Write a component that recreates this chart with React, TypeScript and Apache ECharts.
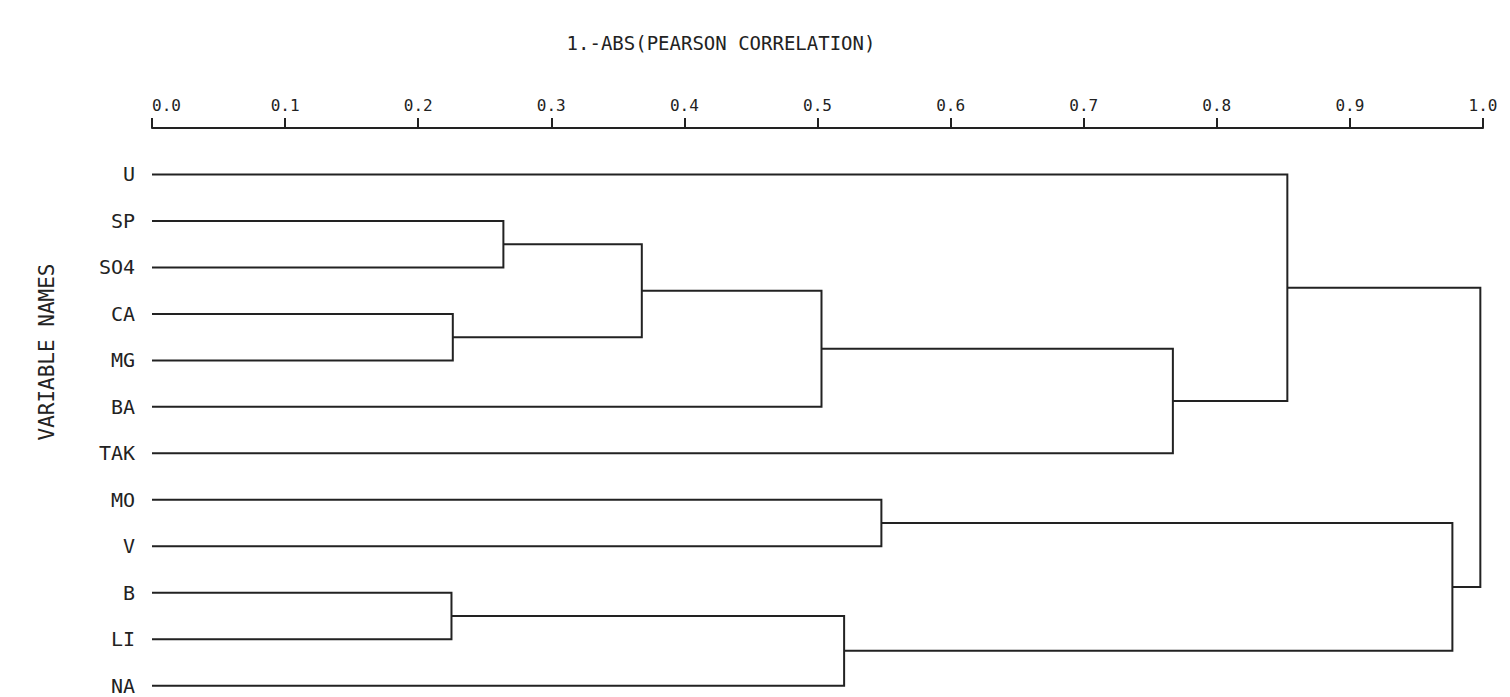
import React, { useEffect, useRef } from "react";
import * as echarts from "echarts";

// Leaves, top to bottom
const leafNames = ["U", "SP", "SO4", "CA", "MG", "BA", "TAK", "MO", "V", "B", "LI", "NA"];
// Merge steps: node ids 0..11 are leaves, merge k creates node 12 + k
const mergeLeft = [1, 3, 12, 14, 15, 0, 7, 9, 19, 18, 17];
const mergeRight = [2, 4, 13, 5, 6, 16, 8, 10, 11, 20, 21];
const mergeHeight = [0.264, 0.226, 0.368, 0.503, 0.767, 0.853, 0.548, 0.225, 0.52, 0.977, 0.998];

const titleText = "1.-ABS(PEARSON CORRELATION)";
const yName = "VARIABLE NAMES";

const FONT = "DejaVu Sans Mono";
const INK = "#222";

function buildLinks() {
  const nodeY: number[] = leafNames.map((_, i) => i);
  const nodeH: number[] = leafNames.map(() => 0);
  const links: { coords: number[][] }[] = [];
  mergeLeft.forEach((a, k) => {
    const b = mergeRight[k];
    const h = mergeHeight[k];
    const ya = nodeY[a];
    const yb = nodeY[b];
    links.push({
      coords: [
        [nodeH[a], ya],
        [h, ya],
        [h, yb],
        [nodeH[b], yb],
      ],
    });
    nodeY.push((ya + yb) / 2);
    nodeH.push(h);
  });
  return links;
}

export default function App() {
  const ref = useRef<HTMLDivElement>(null);
  useEffect(() => {
    document.body.style.margin = "0";
    if (!ref.current) return;
    const chart = echarts.init(ref.current, null, { renderer: "svg" });
    chart.setOption({
      animation: false,
      backgroundColor: "#fff",
      grid: { left: 152, right: 27, top: 128, bottom: 2 },
      xAxis: {
        type: "value",
        position: "top",
        min: 0,
        max: 1,
        interval: 0.1,
        splitLine: { show: false },
        axisLine: { show: true, onZero: false, lineStyle: { color: INK, width: 2 } },
        axisTick: { show: true, inside: false, length: 10, lineStyle: { color: INK, width: 2 } },
        axisLabel: {
          margin: 15,
          fontFamily: FONT,
          fontSize: 16,
          color: INK,
          alignMinLabel: "left",
          formatter: (v: number) => v.toFixed(1),
        },
      },
      yAxis: {
        type: "value",
        inverse: true,
        min: -1,
        max: 11.2,
        interval: 1,
        splitLine: { show: false },
        axisLine: { show: false },
        axisTick: { show: false },
        axisLabel: {
          margin: 17,
          fontFamily: FONT,
          fontSize: 20,
          color: INK,
          formatter: (v: number) => (Number.isInteger(v) && leafNames[v] !== undefined ? leafNames[v] : ""),
        },
      },
      graphic: [
        {
          type: "text",
          x: 721,
          y: 43,
          style: {
            text: titleText,
            fontFamily: FONT,
            fontSize: 19,
            fill: INK,
            textAlign: "center",
            textVerticalAlign: "middle",
          },
        },
        {
          type: "text",
          x: 47,
          y: 352,
          rotation: Math.PI / 2,
          style: {
            text: yName,
            fontFamily: FONT,
            fontSize: 21,
            fill: INK,
            textAlign: "center",
            textVerticalAlign: "middle",
          },
        },
      ],
      series: [
        {
          type: "lines",
          coordinateSystem: "cartesian2d",
          polyline: true,
          silent: true,
          lineStyle: { color: INK, width: 2, opacity: 1 },
          data: buildLinks(),
        },
      ],
    });
    return () => chart.dispose();
  }, []);
  return <div ref={ref} style={{ width: 1510, height: 697 }} />;
}
